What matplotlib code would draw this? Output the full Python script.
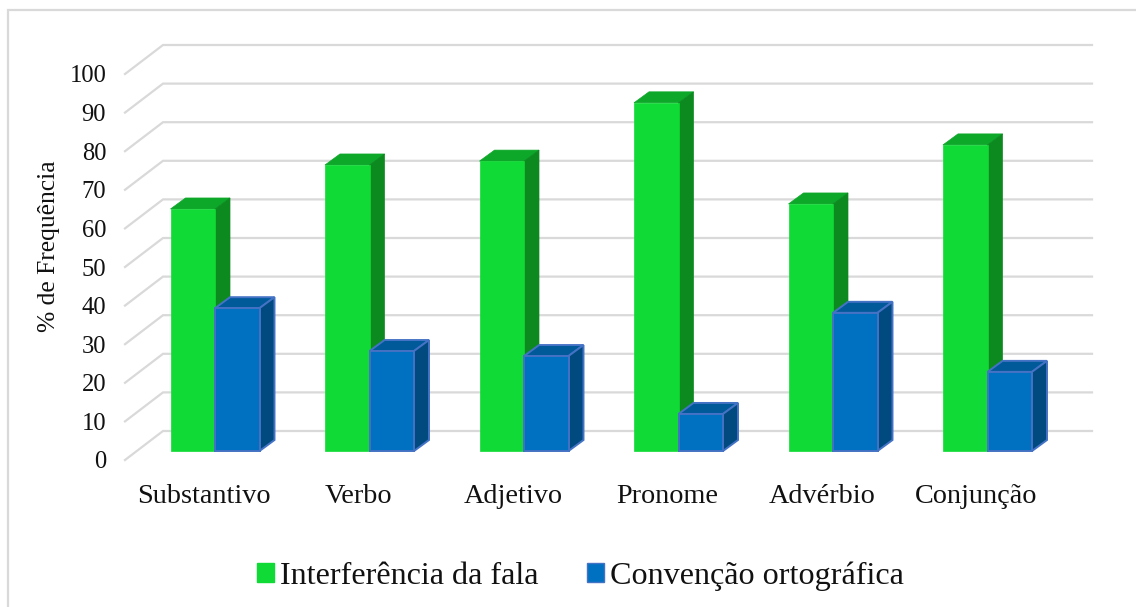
# Import packages.
import matplotlib
matplotlib.use('Agg')
import matplotlib.pyplot as plt
from matplotlib.lines import Line2D
from matplotlib.patches import Patch, Polygon

# Chart values.
categories = ['Substantivo', 'Verbo', 'Adjetivo', 'Pronome', 'Advérbio', 'Conjunção']
interferencia = [62.7, 74.1, 75.1, 90.2, 64.0, 79.3]
convencao = [37.0, 25.9, 24.6, 9.6, 35.8, 20.5]
y_ticks = [0, 10, 20, 30, 40, 50, 60, 70, 80, 90, 100]

# Size of the picture and placement of the plot, in pixels.
W, H = 1136, 607
left, right, top, bottom = 125, 1092, 40, 460
px_cat = 154.5    # one category step
px_val = 3.86     # one percent
zero_x, zero_y = 215, 451

bar_w = 44.5 / px_cat
depth_x = 15 / px_cat
depth_y = 11 / px_val
wall_x = 38 / px_cat
wall_y = 29 / px_val
front_shift = (zero_y - bottom) / px_val

plt.rcParams['font.family'] = ['Liberation Serif', 'DejaVu Serif']

fig = plt.figure(figsize=(W / 100, H / 100), dpi=100)
ax = fig.add_axes([left / W, 1 - bottom / H, (right - left) / W, (bottom - top) / H])
ax.set_xlim((left - zero_x) / px_cat, (right - zero_x) / px_cat)
ax.set_ylim(front_shift, (zero_y - top) / px_val)
for s in ax.spines.values():
    s.set_visible(False)

# Outer frame of the chart: only the left and top sides show.
fig.add_artist(Line2D([8 / W, 8 / W, 1], [0, 1 - 9.5 / H, 1 - 9.5 / H], transform=fig.transFigure,
                      color='#D9D9D9', linewidth=1.6, solid_joinstyle='miter'))

# Grid lines: diagonal on the floor side, then along the back wall.
x_start = ax.get_xlim()[0]
x_back = x_start + wall_x
x_end = ax.get_xlim()[1]
for v in y_ticks:
    y_front = v + front_shift
    y_back = y_front + wall_y
    ax.plot([x_start, x_back, x_end], [y_front, y_back, y_back], color='#D9D9D9', lw=1.6,
            solid_joinstyle='miter', zorder=1, clip_on=False)


def draw_bars(positions, values, face, edge, top_color, side_color, z, lw):
    ax.bar(positions, values, width=bar_w, align='edge', color=face, edgecolor=edge or face,
           linewidth=lw, zorder=z + 1)
    for x0, v in zip(positions, values):
        x1 = x0 + bar_w
        ax.add_patch(Polygon([(x0, v), (x1, v), (x1 + depth_x, v + depth_y), (x0 + depth_x, v + depth_y)],
                             facecolor=top_color, edgecolor=edge or top_color, linewidth=lw, zorder=z))
        ax.add_patch(Polygon([(x1, 0), (x1 + depth_x, depth_y), (x1 + depth_x, v + depth_y), (x1, v)],
                             facecolor=side_color, edgecolor=edge or side_color, linewidth=lw, zorder=z))


# Bars, each category drawn green first so blue sits in front.
pos = list(range(len(categories)))
draw_bars([p - bar_w for p in pos], interferencia, '#10DA35', None, '#0DA82A', '#0C8A20', 2, 0.5)
draw_bars(pos, convencao, '#0070C0', '#4472C4', '#005A9A', '#004A80', 4, 1.4)

# Tick labels.
ax.set_yticks([v + front_shift for v in y_ticks])
ax.set_yticklabels([str(v) for v in y_ticks], fontsize=17.7, color='#111111')
ax.tick_params(axis='y', length=0, pad=13.5)
ax.set_xticks([p - 11 / px_cat for p in pos])
ax.set_xticklabels(categories, fontsize=20.3, color='#111111')
ax.tick_params(axis='x', length=0, pad=17)

fig.text(49 / W, 1 - 246 / H, '% de Frequência', rotation=90, fontsize=18.4, color='#111111',
         ha='center', va='center')

# Legend.
handles = [Patch(facecolor='#10DA35', edgecolor='#10DA35', label='Interferência da fala'),
           Patch(facecolor='#0070C0', edgecolor='#4472C4', label='Convenção ortográfica')]
fig.legend(handles=handles, loc='center', bbox_to_anchor=(580.5 / W, 1 - 576 / H), ncol=2,
           frameon=False, fontsize=23.1, handlelength=0.53, handleheight=0.55,
           handletextpad=0.2, columnspacing=1.5, borderpad=0, labelcolor='#111111')

fig.savefig('out.png', dpi=100, facecolor='white')
